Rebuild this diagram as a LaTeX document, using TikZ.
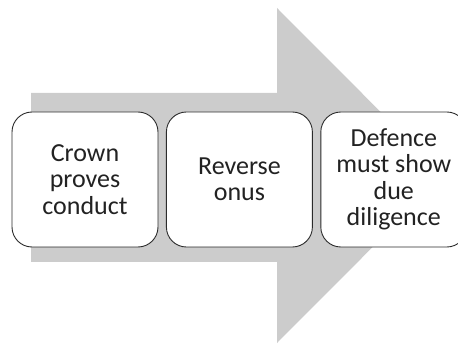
\documentclass[tikz,border=0pt]{standalone}
\usepackage{fontspec}
\setmainfont{Carlito}
\usepackage{xcolor}
\usetikzlibrary{positioning}
\definecolor{arrowgray}{HTML}{CCCCCC}
\definecolor{boxline}{HTML}{2B2B2B}
\definecolor{boxink}{HTML}{222222}

\begin{document}
\begin{tikzpicture}[
  x=1pt,
  y=1pt,
  every node/.style={font=\fontsize{26}{26.5}\selectfont, boxink},
  bigarrow/.style={fill=arrowgray, draw=none},
  stepbox/.style={draw=boxline, line width=0.9pt, fill=white,
                  rounded corners=20pt, align=center,
                  minimum width=146pt, minimum height=135pt, inner sep=0pt},
  node distance=7.5pt
]
  % ---- frame ----
  \clip (0,0) rectangle (458,343);

  % ---- the big arrow behind the boxes ----
  \fill[bigarrow] (31,81) -- (277,81) -- (277,0) -- (444,167.5)
    -- (277,335) -- (277,250) -- (31,250) -- cycle;

  % ---- steps ----
  \node[stepbox] (crown) at (85,163.5) {Crown\\proves\\conduct};
  \node[stepbox, right=of crown] (onus) {Reverse\\onus};
  \node[stepbox, right=of onus] (defence) {Defence\\must show\\due\\diligence};
\end{tikzpicture}
\end{document}
